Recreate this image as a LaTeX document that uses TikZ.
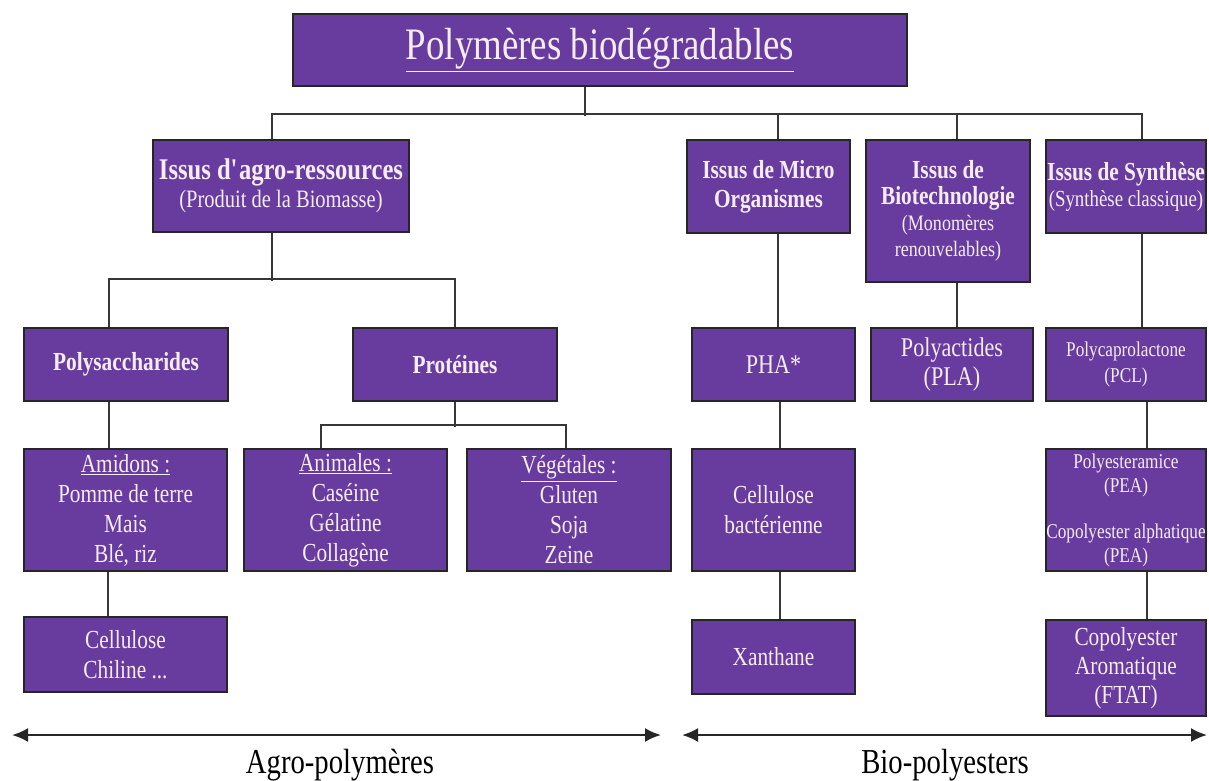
\documentclass[tikz,border=0pt]{standalone}
\usepackage{fontspec}
\setmainfont{Liberation Serif}[FakeStretch=0.82]
\usetikzlibrary{arrows.meta}
\definecolor{boxfill}{RGB}{104,60,158}
\definecolor{boxtext}{RGB}{246,236,246}
\definecolor{linec}{RGB}{55,55,55}
\newcommand\fsz[2]{\fontsize{#1}{#2}\selectfont}
\begin{document}
\begin{tikzpicture}[x=1pt,y=-1pt,
  box/.style={draw=black!85, line width=1.6pt, fill=boxfill, text=boxtext, align=center, inner sep=0pt},
  conn/.style={draw=linec, line width=1.6pt},
  span/.style={draw=black!85, line width=2.2pt, {Latex[length=16pt,width=14pt]}-{Latex[length=16pt,width=14pt]}},
  lab/.style={font=\fsz{35}{38}, text=black}]
\fill[white] (0,0) rectangle (1209,780);
\useasboundingbox (0,0) rectangle (1209,780);

% level 1
\node[box, minimum width=614pt, minimum height=72pt, font=\fsz{45}{48}] (top) at (600,50)
  {\underline{Polymères biodégradables}};

% level 2
\node[box, minimum width=256pt, minimum height=92pt, font=\fsz{25}{28}] (agro) at (281,186)
  {{\fsz{30}{30}\bfseries Issus d\textquotesingle agro-ressources}\\ (Produit de la Biomasse)};
\node[box, minimum width=163pt, minimum height=93pt, font=\fsz{26}{29}\bfseries] (micro) at (768.5,186.5)
  {Issus de Micro\\ Organismes};
\node[box, minimum width=164pt, minimum height=142pt, font=\fsz{22}{26}] (biotech) at (948,211)
  {{\fsz{26}{28}\bfseries Issus de}\\ {\fsz{26}{28}\bfseries Biotechnologie}\\ (Monomères\\ renouvelables)};
\node[box, minimum width=160pt, minimum height=93pt, font=\fsz{23}{26}] (synth) at (1126,186.5)
  {{\fsz{26}{28}\bfseries Issus de Synthèse}\\ (Synthèse classique)};

% level 3
\node[box, minimum width=204pt, minimum height=73pt, font=\fsz{26}{28}\bfseries] (poly) at (126,364.5)
  {Polysaccharides};
\node[box, minimum width=204pt, minimum height=73pt, font=\fsz{26}{28}\bfseries] (prot) at (455,364.5)
  {Protéines};
\node[box, minimum width=163pt, minimum height=73pt, font=\fsz{27}{30}] (pha) at (773.5,364.5)
  {PHA*};
\node[box, minimum width=162pt, minimum height=73pt, font=\fsz{27}{29}] (pla) at (952,364.5)
  {Polyactides\\ (PLA)};
\node[box, minimum width=160pt, minimum height=73pt, font=\fsz{21}{26}] (pcl) at (1126,364.5)
  {Polycaprolactone\\ (PCL)};

% level 4
\node[box, minimum width=203pt, minimum height=122pt, font=\fsz{26}{30}] (amid) at (125.5,510)
  {\underline{Amidons :}\\ Pomme de terre\\ Mais\\ Blé, riz};
\node[box, minimum width=203pt, minimum height=122pt, font=\fsz{26}{30}] (anim) at (345.5,510)
  {\underline{Animales :}\\ Caséine\\ Gélatine\\ Collagène};
\node[box, minimum width=204pt, minimum height=122pt, font=\fsz{26}{30}] (veg) at (569,510)
  {\underline{Végétales :}\\ Gluten\\ Soja\\ Zeine};
\node[box, minimum width=163pt, minimum height=122pt, font=\fsz{26}{30}] (cellb) at (773.5,510)
  {Cellulose\\ bactérienne};
\node[box, minimum width=160pt, minimum height=122pt, font=\fsz{21}{24}] (pea) at (1126,510)
  {Polyesteramice\\ (PEA)\\[22pt] Copolyester alphatique\\ (PEA)};

% level 5
\node[box, minimum width=203pt, minimum height=75pt, font=\fsz{26}{30}] (cellc) at (125.5,654.5)
  {Cellulose\\ Chiline ...};
\node[box, minimum width=163pt, minimum height=74pt, font=\fsz{26}{30}] (xanth) at (773.5,657)
  {Xanthane};
\node[box, minimum width=160pt, minimum height=96pt, font=\fsz{26}{29}] (ftat) at (1126,668)
  {Copolyester\\ Aromatique\\ (FTAT)};

% connectors
\draw[conn] ([xshift=-15pt]top.south) -- ++(0,29);
\draw[conn] ([xshift=-9pt]agro.north) -- ++(0,-25) -| ([xshift=16pt]synth.north);
\draw[conn] ([xshift=9.5pt]micro.north) -- ++(0,-25);
\draw[conn] ([xshift=9pt]biotech.north) -- ++(0,-25);

\draw[conn] ([xshift=-9pt]agro.south) -- ++(0,48);
\draw[conn] ([xshift=-17pt]poly.north) -- ++(0,-48) -| (prot.north);
\draw[conn] ([xshift=-17pt]poly.south) -- ([xshift=-16.5pt]amid.north);
\draw[conn] ([xshift=-17.5pt]amid.south) -- ([xshift=-17.5pt]cellc.north);

\draw[conn] (prot.south) -- ++(0,25);
\draw[conn] ([xshift=-24.5pt]anim.north) -- ++(0,-23) -| ([xshift=-3pt]veg.north);

\draw[conn] ([xshift=9.5pt]micro.south) -- ([xshift=4.5pt]pha.north);
\draw[conn] ([xshift=6.5pt]pha.south) -- ([xshift=6.5pt]cellb.north);
\draw[conn] ([xshift=6.5pt]cellb.south) -- ([xshift=6.5pt]xanth.north);

\draw[conn] ([xshift=9pt]biotech.south) -- ([xshift=5pt]pla.north);

\draw[conn] ([xshift=16pt]synth.south) -- ([xshift=16pt]pcl.north);
\draw[conn] ([xshift=21pt]pcl.south) -- ([xshift=21pt]pea.north);
\draw[conn] ([xshift=21pt]pea.south) -- ([xshift=21pt]ftat.north);

% bottom spans
\coordinate (a1) at (12,735);
\coordinate (a2) at (661,735);
\coordinate (b1) at (682,735);
\coordinate (b2) at (1207,735);
\draw[span] (a1) -- (a2);
\draw[span] (b1) -- (b2);
\node[lab] (agrolab) at (340,765) {Agro-polymères};
\node[lab] (biolab) at (945,765) {Bio-polyesters};
\end{tikzpicture}
\end{document}
